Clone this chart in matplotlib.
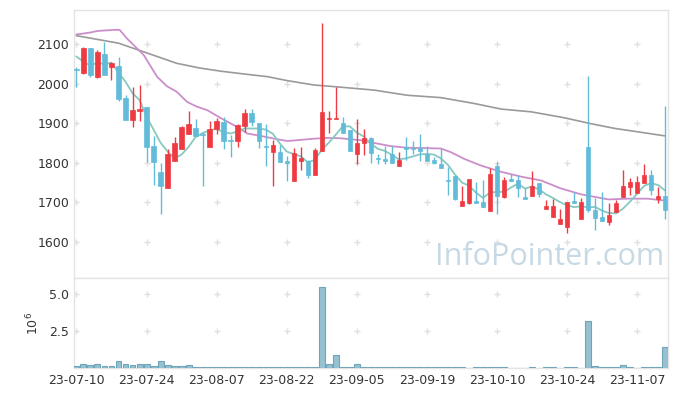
import matplotlib
matplotlib.use('Agg')
import matplotlib.pyplot as plt
import numpy as np
import pandas as pd

tick_labels = ["23-07-10", "23-07-24", "23-08-07", "23-08-22", "23-09-05",
               "23-09-19", "23-10-10", "23-10-24", "23-11-07"]
tick_pos = [0, 10, 20, 30, 40, 50, 60, 70, 80]

opens = [2038, 2028, 2090, 2018, 2076, 2043, 2045, 1964, 1909, 1930,
         1941, 1843, 1777, 1735, 1805, 1834, 1872, 1887, 1873, 1841,
         1885, 1902, 1856, 1854, 1894, 1925, 1901, 1841, 1826, 1828,
         1805, 1755, 1805, 1805, 1769, 1831, 1910, 1910, 1900, 1883,
         1822, 1849, 1863, 1811, 1809, 1821, 1792, 1839, 1837, 1837,
         1821, 1808, 1796, 1755, 1766, 1690, 1698, 1703, 1700, 1678,
         1792, 1712, 1757, 1756, 1711, 1716, 1748, 1684, 1662, 1646,
         1637, 1701, 1657, 1839, 1680, 1663, 1651, 1674, 1712, 1739,
         1724, 1749, 1769, 1707, 1716]
highs = [2043, 2094, 2092, 2086, 2107, 2056, 2069, 1972, 1991, 1997,
         1941, 1869, 1800, 1835, 1866, 1893, 1932, 1910, 1877, 1907,
         1913, 1915, 1870, 1897, 1936, 1935, 1901, 1898, 1857, 1845,
         1816, 1838, 1841, 1808, 1837, 2153, 1931, 1993, 1917, 1883,
         1910, 1886, 1866, 1823, 1843, 1842, 1826, 1866, 1854, 1874,
         1842, 1814, 1838, 1789, 1766, 1740, 1759, 1751, 1756, 1787,
         1803, 1763, 1771, 1770, 1736, 1779, 1748, 1705, 1708, 1683,
         1700, 1726, 1711, 2020, 1710, 1727, 1697, 1706, 1782, 1761,
         1767, 1796, 1782, 1738, 1945]
lows = [1992, 2024, 2018, 2014, 2022, 2009, 1957, 1909, 1890, 1907,
        1801, 1744, 1670, 1735, 1805, 1834, 1872, 1868, 1741, 1839,
        1872, 1834, 1814, 1840, 1879, 1894, 1837, 1792, 1741, 1803,
        1755, 1755, 1782, 1762, 1769, 1831, 1875, 1910, 1875, 1831,
        1797, 1820, 1799, 1798, 1798, 1800, 1792, 1806, 1822, 1804,
        1805, 1796, 1786, 1719, 1706, 1690, 1696, 1699, 1688, 1678,
        1671, 1710, 1755, 1712, 1709, 1715, 1712, 1684, 1662, 1645,
        1621, 1698, 1657, 1676, 1630, 1652, 1642, 1674, 1712, 1718,
        1724, 1749, 1718, 1699, 1657]
closes = [2034, 2090, 2022, 2080, 2022, 2054, 1962, 1909, 1934, 1936,
          1841, 1801, 1742, 1822, 1849, 1890, 1898, 1868, 1871, 1885,
          1907, 1854, 1854, 1896, 1925, 1904, 1856, 1839, 1845, 1803,
          1799, 1824, 1811, 1769, 1832, 1929, 1913, 1913, 1875, 1831,
          1850, 1863, 1824, 1809, 1804, 1800, 1806, 1836, 1834, 1830,
          1805, 1799, 1787, 1753, 1707, 1704, 1758, 1699, 1688, 1771,
          1716, 1756, 1755, 1737, 1709, 1741, 1721, 1691, 1691, 1657,
          1700, 1699, 1700, 1680, 1661, 1653, 1668, 1697, 1741, 1750,
          1751, 1769, 1731, 1716, 1680]
volumes_m = [0.15, 0.30, 0.18, 0.25, 0.12, 0.12, 0.45, 0.25, 0.17, 0.25,
             0.25, 0.12, 0.45, 0.18, 0.12, 0.12, 0.18, 0.05, 0.05, 0.05,
             0.05, 0.05, 0.05, 0.05, 0.05, 0.05, 0.05, 0.10, 0.10, 0.05,
             0.05, 0.10, 0.05, 0.05, 0.05, 5.45, 0.25, 0.85, 0.10, 0.10,
             0.30, 0.10, 0.10, 0.05, 0.05, 0.05, 0.05, 0.10, 0.05, 0.10,
             0.05, 0.05, 0.10, 0.05, 0.05, 0.05, 0.0, 0.05, 0.05, 0.05,
             0.05, 0.05, 0.0, 0.0, 0.0, 0.06, 0.0, 0.05, 0.05, 0.0,
             0.05, 0.05, 0.0, 3.20, 0.15, 0.10, 0.05, 0.05, 0.22, 0.05,
             0.0, 0.05, 0.05, 0.05, 1.40]

# first four points of the short moving average (prior data not shown)
ma5_head = [2069, 2056, 2046, 2054]

ma20_x = [0, 2, 3, 5.8, 6.2, 7.2, 9.6, 11.5, 12.9, 14.3, 15.8, 17.2, 18.7, 20.6,
          22.5, 24.4, 26.3, 28.2, 30.1, 32, 33.9, 35.8, 37.7, 40.6, 42.5, 44.9,
          47.2, 50.1, 52, 53.4, 55.3, 57.7, 60.6, 63.4, 66.3, 69.1, 72, 75.9,
          78.7, 81.5, 84]
ma20_y = [2125, 2130, 2134, 2137, 2136, 2115, 2073, 2018, 1994, 1980, 1954, 1942,
          1933, 1913, 1895, 1874, 1868, 1861, 1855, 1858, 1861, 1863, 1862, 1857,
          1850, 1842, 1838, 1837, 1836, 1827, 1810, 1793, 1777, 1765, 1755, 1735,
          1720, 1707, 1709, 1709, 1704]

ma120_x = [0, 6, 9.6, 14.3, 17.6, 20.6, 23.4, 27.3, 30.1, 33.9, 36.7, 40.6,
           42.5, 47.2, 52, 56.8, 60.6, 64.9, 69.6, 73.4, 76.8, 80.6, 84]
ma120_y = [2122, 2103, 2081, 2052, 2040, 2032, 2026, 2018, 2008, 1997, 1993,
           1987, 1984, 1971, 1965, 1950, 1936, 1929, 1914, 1899, 1887, 1877, 1868]

RED = '#ee3a40'
BLUE = '#62bcd9'

n = len(closes)
x = np.arange(n)
cl = pd.Series(closes, dtype=float)
ma5 = cl.rolling(5).mean()
ma5.iloc[:4] = ma5_head

fig = plt.figure(figsize=(6.77, 3.96), dpi=100)
ax = fig.add_axes([0.1093, 0.298, 0.8774, 0.6767])
axv = fig.add_axes([0.1093, 0.0707, 0.8774, 0.2273], sharex=ax)

for a in (ax, axv):
    for s in a.spines.values():
        s.set_color('#e4e4e4')
        s.set_linewidth(1.0)
    a.tick_params(length=0, labelsize=9, colors='#333333')

# grid crosses
for xt in tick_pos:
    for yt in range(1600, 2101, 100):
        ax.plot(xt, yt, marker='+', color='#e0e0e0', ms=4.5, mew=1, zorder=0)
    for yt in (2.5e6, 5e6):
        axv.plot(xt, yt, marker='+', color='#e0e0e0', ms=4.5, mew=1, zorder=0)

# watermark
ax.text(0.993, 0.08, 'InfoPointer.com', transform=ax.transAxes, ha='right', va='center',
        fontsize=22, color='#c6d9e4', family=['Open Sans', 'DejaVu Sans'], zorder=1)

# moving averages
ax.plot(ma120_x, ma120_y, color='#9a9a9a', lw=1.2, zorder=2)
ax.plot(ma20_x, ma20_y, color='#cc8ecb', lw=1.3, zorder=2)
ax.plot(x, ma5, color='#86c9c2', lw=1.3, zorder=2)

# candles
for i in range(n):
    o, h, l, c = opens[i], highs[i], lows[i], closes[i]
    col = RED if c >= o else BLUE
    ax.vlines(i, l, h, color=col, lw=1.0, zorder=3)
    bot = min(o, c)
    hgt = max(abs(c - o), 3)
    ax.bar(i, hgt, bottom=bot, width=0.62, color=col, edgecolor=col, lw=0.5, zorder=4)

ax.set_ylim(1508, 2187)
ax.set_yticks(range(1600, 2101, 100))
ax.set_xlim(-0.35, 84.4)
plt.setp(ax.get_xticklabels(), visible=False)

vols = np.array(volumes_m) * 1e6
axv.bar(x, vols, width=0.85, color='#96c1d1', edgecolor='#6fa4ba', lw=0.8, zorder=3)
axv.set_ylim(0, 6.08e6)
axv.set_yticks([2.5e6, 5e6])
axv.set_yticklabels(['2.5', '5.0'])
axv.set_xticks(tick_pos)
axv.set_xticklabels(tick_labels)
axv.tick_params(axis='x', pad=4)
axv.set_ylabel(r'$10^6$', fontsize=9, color='#333333', labelpad=6)

fig.savefig('out.png', dpi=100)
